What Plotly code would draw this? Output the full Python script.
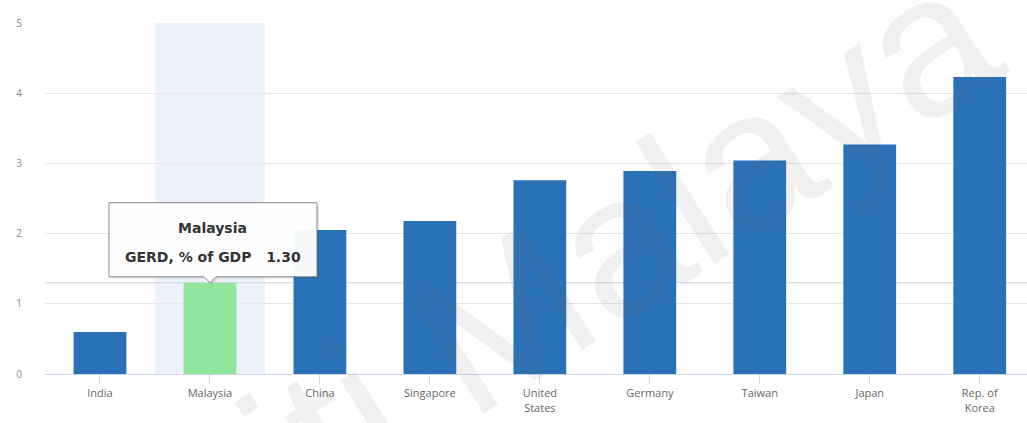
import plotly.graph_objects as go

countries = ["India", "Malaysia", "China", "Singapore", "United<br>States",
             "Germany", "Taiwan", "Japan", "Rep. of<br>Korea"]
gerd = [0.60, 1.30, 2.05, 2.18, 2.76, 2.89, 3.04, 3.27, 4.23]
highlight = "Malaysia"
y_ticks = [0, 1, 2, 3, 4, 5]

BLUE = "#2a71b8"
GREEN = "#92e59c"
colors = [GREEN if c == highlight else BLUE for c in countries]
hi_idx = countries.index(highlight)
hi_val = gerd[hi_idx]

fig = go.Figure()
fig.add_trace(go.Bar(x=list(range(len(countries))), y=gerd, marker_color=colors,
                     marker_line_width=0, width=0.48, hoverinfo="skip"))

# crosshair band and horizontal crosshair line
fig.add_shape(type="rect", xref="x", yref="paper", x0=hi_idx - 0.5, x1=hi_idx + 0.5,
              y0=0, y1=1, fillcolor="#ebf2fc", line_width=0, layer="below")
fig.add_shape(type="line", xref="paper", yref="y", x0=0, x1=1, y0=hi_val, y1=hi_val,
              line=dict(color="#d0d0d0", width=1), layer="below")

# tooltip callout (pixel-sized around the Malaysia bar top)
callout = "M0,0 L-6,6 L-101,6 L-101,80 L107,80 L107,6 L6,6 Z"
shadow = "M2,-2 L-4,4 L-99,4 L-99,78 L109,78 L109,4 L8,4 Z"
fig.add_shape(type="path", xref="x", yref="y", xsizemode="pixel", ysizemode="pixel",
              xanchor=hi_idx, yanchor=hi_val, path=shadow,
              fillcolor="rgba(0,0,0,0.10)", line_width=0, layer="above")
fig.add_shape(type="path", xref="x", yref="y", xsizemode="pixel", ysizemode="pixel",
              xanchor=hi_idx, yanchor=hi_val, path=callout,
              fillcolor="rgba(255,255,255,0.96)", line=dict(color="#8a8a8a", width=1),
              layer="above")
tip_font = dict(family="DejaVu Sans", size=14, color="#333333")
fig.add_annotation(x=hi_idx, y=hi_val, xref="x", yref="y", showarrow=False,
                   xshift=3, yshift=55, xanchor="center", yanchor="middle",
                   text=f"<b>{highlight}</b>", font=tip_font)
fig.add_annotation(x=hi_idx, y=hi_val, xref="x", yref="y", showarrow=False,
                   xshift=3, yshift=26, xanchor="center", yanchor="middle",
                   text=f"<b>GERD, % of GDP&#160;&#160;&#160;{hi_val:.2f}</b>", font=tip_font)

# watermark
fig.add_annotation(x=0.295, y=-0.151, xref="paper", yref="paper", showarrow=False,
                   xanchor="center", yanchor="middle",
                   text="Universiti Malaya", textangle=-33,
                   font=dict(family="Liberation Sans", size=200, color="rgba(110,110,110,0.10)"))

fig.update_layout(
    width=1027, height=423,
    margin=dict(l=45, r=0, t=23, b=49),
    paper_bgcolor="white", plot_bgcolor="white",
    showlegend=False, bargap=0.52,
    font=dict(family="Open Sans", size=11, color="#666666"),
)
fig.update_xaxes(
    range=[-0.5, 8.43], tickmode="array", tickvals=list(range(len(countries))),
    ticktext=countries, showgrid=False, zeroline=False,
    showline=True, linecolor="#ccd6eb", linewidth=1,
    ticks="outside", tickson="boundaries", ticklen=9, tickcolor="#ccd6eb",
    tickfont=dict(size=11, color="#666666"),
)
fig.update_yaxes(
    range=[0, 5], tickvals=y_ticks, showgrid=True, gridcolor="#e6e6e6",
    zeroline=False, showline=False, ticklabelstandoff=22,
    tickfont=dict(size=10, color="#8a8a8a"),
)

fig.write_html("out.html")
